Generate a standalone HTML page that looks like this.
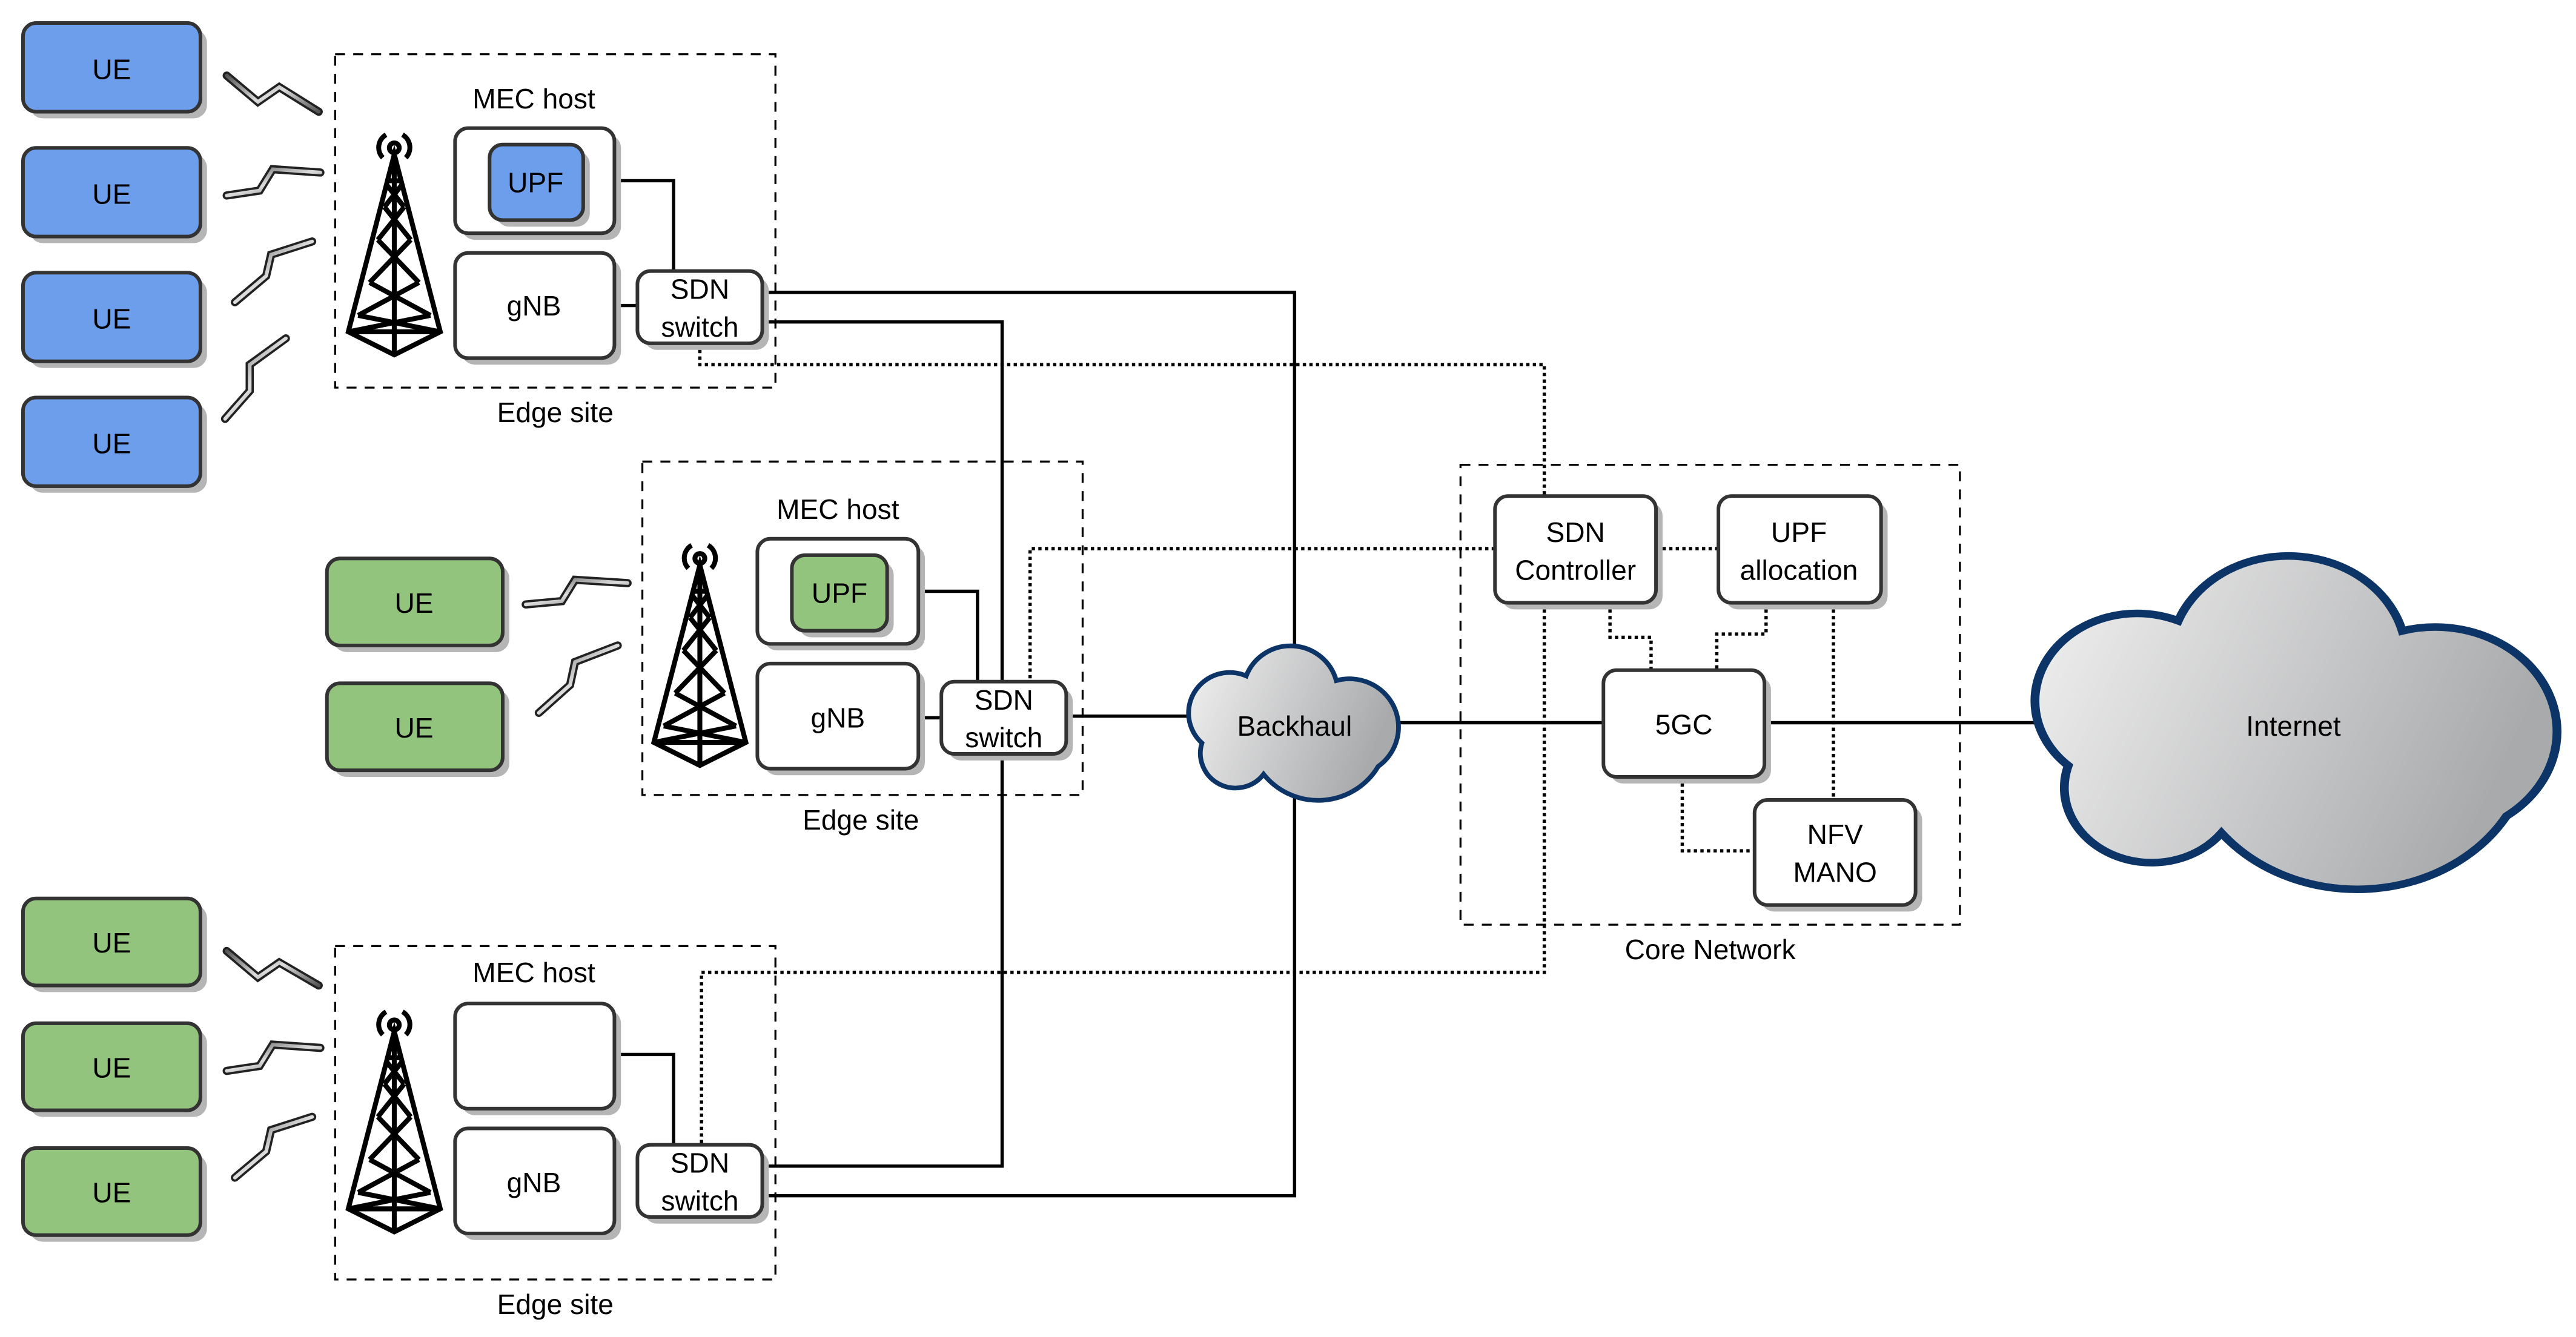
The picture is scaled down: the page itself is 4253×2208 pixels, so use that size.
<!DOCTYPE html>
<html><head><meta charset="utf-8"><style>
html,body{margin:0;padding:0;background:#fff}
svg{display:block}
text{font-family:"Liberation Sans",sans-serif;font-size:17px;fill:#000;text-anchor:middle}
</style></head><body>
<svg width="4253" height="2208" viewBox="0 0 1568 814" xmlns="http://www.w3.org/2000/svg">
<defs>
<linearGradient id="cg" x1="0" y1="0" x2="1" y2="0.3">
<stop offset="0" stop-color="#f2f2f2"/><stop offset="1" stop-color="#a9aaac"/></linearGradient>
<linearGradient id="bg" x1="0" y1="0" x2="1" y2="1">
<stop offset="0" stop-color="#555"/><stop offset="0.5" stop-color="#ddd"/><stop offset="1" stop-color="#555"/></linearGradient>
<g id="tower" fill="none" stroke="#000" stroke-width="3">
<circle cx="0" cy="10" r="3"/>
<path d="M-7,16 A9,9 0 0 1 -5,2 M7,16 A9,9 0 0 0 5,2" />
<path d="M0,14 L-28,122 L0,136 L28,122 Z M0,14 L0,136 M-28,122 L28,122"/>
<path d="M-4,30 L4,30 M-5,32 L6,46 M5,32 L-6,46 M-6,46 L10,66 M6,46 L-10,66 M-10,66 L15,92 M10,66 L-15,92 M-15,92 L22,112 M15,92 L-22,112 M-22,112 L28,122 M22,112 L-28,122"/>
</g>
<path id="cloud" d="M1338,384 A60,60 0 0 1 1452,390 A62,62 0 0 1 1505,500 A88,88 0 0 1 1360,510 A44.5,44.5 0 0 1 1282,470 A52,52 0 0 1 1338,384 Z"/>
</defs>

<g fill="none" stroke="#000" stroke-width="1.2" stroke-dasharray="6,5">
<rect x="204" y="33" width="268" height="203"/>
<rect x="391" y="281" width="268" height="203"/>
<rect x="204" y="576" width="268" height="203"/>
<rect x="889" y="283" width="304" height="280"/>
</g>

<g fill="none" stroke="#000" stroke-width="2">
<path d="M374,110 H410 V165 M374,186 H388"/>
<path d="M464,178 H788 V400"/>
<path d="M464,196 H610 V710 H464"/>
<path d="M464,728 H788 V485"/>
<path d="M559,360 H595 V415 M559,437 H573 M649,436 H726"/>
<path d="M374,642 H410 V697"/>
<path d="M850,440 H976 M1074,440 H1240"/>
</g>
<g fill="none" stroke="#000" stroke-width="2" stroke-dasharray="2,2">
<path d="M426,209 V222 H940 V302"/>
<path d="M910,334 H627 V415"/>
<path d="M940,367 V592 H427 V697"/>
<path d="M1008,334 H1046"/>
<path d="M980,367 V388 H1005 V408"/>
<path d="M1075,367 V386 H1045 V408"/>
<path d="M1116,367 V487"/>
<path d="M1024,473 V518 H1068"/>
</g>

<g stroke="none" fill="#b5b5b5">
<rect x="18" y="18" width="108" height="54" rx="8"/>
<rect x="18" y="94" width="108" height="54" rx="8"/>
<rect x="18" y="170" width="108" height="54" rx="8"/>
<rect x="18" y="246" width="108" height="54" rx="8"/>
<rect x="203" y="344" width="107" height="53" rx="8"/>
<rect x="203" y="420" width="107" height="53" rx="8"/>
<rect x="18" y="551" width="108" height="53" rx="8"/>
<rect x="18" y="627" width="108" height="53" rx="8"/>
<rect x="18" y="703" width="108" height="53" rx="8"/>
<rect x="281" y="82" width="97" height="64" rx="8"/>
<rect x="281" y="158" width="97" height="64" rx="8"/>
<rect x="392" y="169" width="76" height="44" rx="8"/>
<rect x="465" y="332" width="98" height="64" rx="8"/>
<rect x="465" y="408" width="98" height="64" rx="8"/>
<rect x="577" y="419" width="76" height="44" rx="8"/>
<rect x="281" y="615" width="97" height="64" rx="8"/>
<rect x="281" y="691" width="97" height="64" rx="8"/>
<rect x="392" y="701" width="76" height="44" rx="8"/>
<rect x="914" y="306" width="98" height="65" rx="8"/>
<rect x="1050" y="306" width="99" height="65" rx="8"/>
<rect x="980" y="412" width="98" height="65" rx="8"/>
<rect x="1072" y="491" width="98" height="64" rx="8"/>
</g>
<g stroke="#333" stroke-width="2.2">
<g fill="#6d9eeb">
<rect x="14" y="14" width="108" height="54" rx="8"/>
<rect x="14" y="90" width="108" height="54" rx="8"/>
<rect x="14" y="166" width="108" height="54" rx="8"/>
<rect x="14" y="242" width="108" height="54" rx="8"/>
</g>
<g fill="#93c47d">
<rect x="199" y="340" width="107" height="53" rx="8"/>
<rect x="199" y="416" width="107" height="53" rx="8"/>
<rect x="14" y="547" width="108" height="53" rx="8"/>
<rect x="14" y="623" width="108" height="53" rx="8"/>
<rect x="14" y="699" width="108" height="53" rx="8"/>
</g>
<g fill="#fff">
<rect x="277" y="78" width="97" height="64" rx="8"/>
<rect x="277" y="154" width="97" height="64" rx="8"/>
<rect x="388" y="165" width="76" height="44" rx="8"/>
<rect x="461" y="328" width="98" height="64" rx="8"/>
<rect x="461" y="404" width="98" height="64" rx="8"/>
<rect x="573" y="415" width="76" height="44" rx="8"/>
<rect x="277" y="611" width="97" height="64" rx="8"/>
<rect x="277" y="687" width="97" height="64" rx="8"/>
<rect x="388" y="697" width="76" height="44" rx="8"/>
<rect x="910" y="302" width="98" height="65" rx="8"/>
<rect x="1046" y="302" width="99" height="65" rx="8"/>
<rect x="976" y="408" width="98" height="65" rx="8"/>
<rect x="1068" y="487" width="98" height="64" rx="8"/>
</g>
</g>
<rect x="302" y="92" width="57" height="46" rx="8" fill="#b5b5b5"/>
<rect x="298" y="88" width="57" height="46" rx="8" fill="#6d9eeb" stroke="#333" stroke-width="2.2"/>
<rect x="486" y="342" width="58" height="46" rx="8" fill="#b5b5b5"/>
<rect x="482" y="338" width="58" height="46" rx="8" fill="#93c47d" stroke="#333" stroke-width="2.2"/>

<use href="#tower" x="240" y="80"/>
<use href="#tower" x="426" y="330"/>
<use href="#tower" x="240" y="614"/>

<g fill="none" stroke-linejoin="miter" stroke-linecap="round">
<g stroke="#222" stroke-width="5">
<polyline points="138,46 157,62 170,53 194,68"/>
<polyline points="138,119 158,116 166,103 195,105"/>
<polyline points="143,184 162,168 165,155 190,147"/>
<polyline points="137,255 152,238 152,222 174,206"/>
<polyline points="320,368 342,366 350,353 382,355"/>
<polyline points="328,434 347,417 350,403 376,393"/>
<polyline points="138,579 157,595 170,586 194,600"/>
<polyline points="138,652 158,649 166,636 195,638"/>
<polyline points="143,717 162,701 165,688 190,680"/>
</g>
<g stroke="url(#bg)" stroke-width="2.2">
<polyline points="138,46 157,62 170,53 194,68"/>
<polyline points="138,119 158,116 166,103 195,105"/>
<polyline points="143,184 162,168 165,155 190,147"/>
<polyline points="137,255 152,238 152,222 174,206"/>
<polyline points="320,368 342,366 350,353 382,355"/>
<polyline points="328,434 347,417 350,403 376,393"/>
<polyline points="138,579 157,595 170,586 194,600"/>
<polyline points="138,652 158,649 166,636 195,638"/>
<polyline points="143,717 162,701 165,688 190,680"/>
</g>
</g>

<g transform="translate(1235,338) scale(1.196,1.025) translate(-1262,-345)">
<use href="#cloud" fill="url(#cg)" stroke="#0d3466" stroke-width="4.5"/>
</g>
<g transform="translate(722,393) scale(0.481,0.475) translate(-1262,-345)">
<use href="#cloud" fill="url(#cg)" stroke="#0d3466" stroke-width="6"/>
</g>

<text x="68" y="48">UE</text><text x="68" y="124">UE</text><text x="68" y="200">UE</text><text x="68" y="276">UE</text>
<text x="252" y="373">UE</text><text x="252" y="449">UE</text>
<text x="68" y="580">UE</text><text x="68" y="656">UE</text><text x="68" y="732">UE</text>
<text x="325" y="66">MEC host</text><text x="326" y="117">UPF</text><text x="325" y="192">gNB</text>
<text x="426" y="182">SDN</text><text x="426" y="205">switch</text><text x="338" y="257">Edge site</text>
<text x="510" y="316">MEC host</text><text x="511" y="367">UPF</text><text x="510" y="443">gNB</text>
<text x="611" y="432">SDN</text><text x="611" y="455">switch</text><text x="524" y="505">Edge site</text>
<text x="325" y="598">MEC host</text><text x="325" y="726">gNB</text>
<text x="426" y="714">SDN</text><text x="426" y="737">switch</text><text x="338" y="800">Edge site</text>
<text x="788" y="448">Backhaul</text>
<text x="959" y="330">SDN</text><text x="959" y="353">Controller</text>
<text x="1095" y="330">UPF</text><text x="1095" y="353">allocation</text>
<text x="1025" y="447">5GC</text>
<text x="1117" y="514">NFV</text><text x="1117" y="537">MANO</text>
<text x="1041" y="584">Core Network</text>
<text x="1396" y="448">Internet</text>
</svg>
</body></html>
